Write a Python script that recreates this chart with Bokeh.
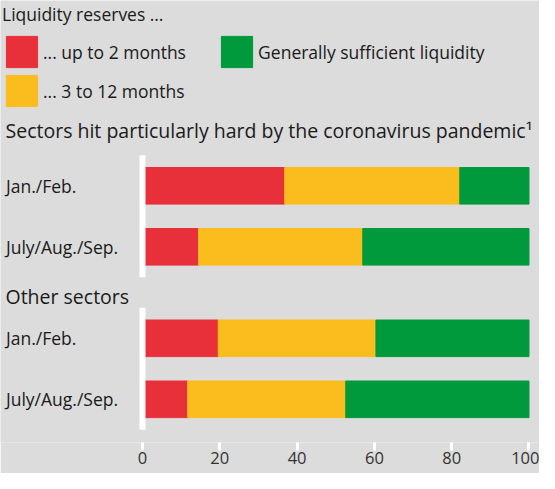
from bokeh.plotting import figure
from bokeh.models import Range1d, ColumnDataSource, Legend, LegendItem, LabelSet
from bokeh.core.properties import value
from bokeh.embed import file_html
from bokeh.resources import INLINE

# ---------------- data ----------------
periods = ["Jan./Feb.", "July/Aug./Sep.", "Jan./Feb.", "July/Aug./Sep."]
group_of_row = [0, 0, 1, 1]
group_titles = ["Sectors hit particularly hard by the coronavirus pandemic\u00b9", "Other sectors"]
up_to_2 = [36.8, 14.5, 19.6, 11.7]
m3_to_12 = [45.3, 42.5, 40.8, 40.9]
sufficient = [17.9, 43.0, 39.6, 47.4]
series_labels = ["... up to 2 months", "... 3 to 12 months", "Generally sufficient liquidity"]
legend_title = "Liquidity reserves \u2026"
ticks = [0, 20, 40, 60, 80, 100]

# ---------------- style ----------------
FONT = "Open Sans"
BG = "#dcdcdc"
TXT = "#1a1a1a"
COLORS = ["#e8303a", "#fbbc1e", "#009a3d"]
FRAME_H = 442

# row positions: one band per row, half a band extra between groups
pos = [i + 0.5 * g for i, g in enumerate(group_of_row)]

source = ColumnDataSource(dict(pos=pos, period=periods, low=up_to_2, mid=m3_to_12, high=sufficient))

p = figure(frame_width=539, frame_height=FRAME_H, output_backend="svg", toolbar_location=None,
           x_range=Range1d(-36.74, 102.72), y_range=Range1d(4.208, -3.0377),
           y_axis_location=None, min_border=0, min_border_left=0, min_border_right=0,
           min_border_top=0, min_border_bottom=31)
p.background_fill_color = BG
p.border_fill_color = BG
p.outline_line_color = None
p.grid.visible = False

renderers = p.hbar_stack(["low", "mid", "high"], y="pos", height=0.6, color=COLORS, source=source)

# white baseline segment per group
for g in sorted(set(group_of_row)):
    rows = [pp for pp, gg in zip(pos, group_of_row) if gg == g]
    p.segment(x0=[0], x1=[0], y0=[min(rows) - 0.5], y1=[max(rows) + 0.5],
              line_color="white", line_width=6, line_cap="butt")

# category labels
p.add_layout(LabelSet(x=5.5, y="pos", text="period", source=source, x_units="screen",
                      y_offset=-6.7, text_baseline="alphabetic", text_align="left",
                      text_font=value(FONT), text_font_size=value("17.5px"), text_color=TXT))

# group titles (baseline positions in row units)
title_src = ColumnDataSource(dict(y=[-0.78, 1.93], text=group_titles))
p.add_layout(LabelSet(x=5, y="y", text="text", source=title_src, x_units="screen",
                      text_baseline="alphabetic", text_align="left",
                      text_font=value(FONT), text_font_size=value("19.5px"), text_color=TXT))

# x axis
ax = p.xaxis[0]
ax.ticker = ticks
ax.axis_line_color = None
ax.major_tick_in = 0
ax.major_tick_out = 8
ax.major_tick_line_color = "white"
ax.major_tick_line_width = 3
ax.minor_tick_line_color = None
ax.major_label_standoff = 1
ax.major_label_text_font = FONT
ax.major_label_text_font_size = "16.5px"
ax.major_label_text_color = "#333333"

common = dict(glyph_width=39, glyph_height=39, label_standoff=2, padding=2, margin=0,
              border_line_alpha=0, background_fill_alpha=0,
              label_text_font=FONT, label_text_font_size="17.5px", label_text_color=TXT)

leg1 = Legend(items=[LegendItem(label=series_labels[0], renderers=[renderers[0]]),
                     LegendItem(label=series_labels[1], renderers=[renderers[1]])],
              location="top_left", spacing=-2, title=legend_title, title_standoff=6,
              title_text_font=FONT, title_text_font_size="17.5px", title_text_font_style="normal",
              title_text_color=TXT, **common)
leg2 = Legend(items=[LegendItem(label=series_labels[2], renderers=[renderers[2]])],
              location=(215.1, 368.9), **common)
p.add_layout(leg1)
p.add_layout(leg2)

open("out.html", "w").write(file_html(p, INLINE))
